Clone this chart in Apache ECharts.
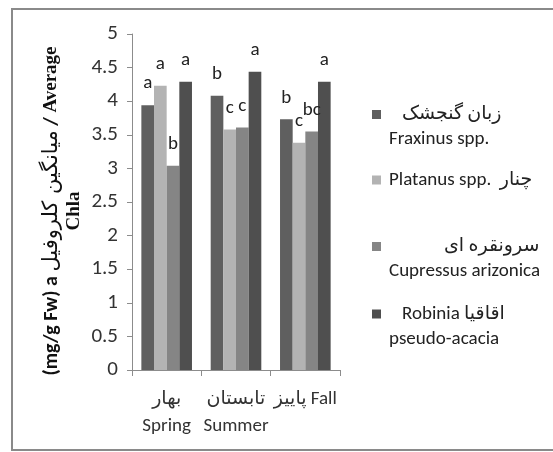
<!DOCTYPE html>
<html>
<head>
<meta charset="utf-8">
<script src="https://cdn.jsdelivr.net/npm/echarts@6/dist/echarts.min.js"></script>
<style>
html,body{margin:0;padding:0;background:#fff;}
#chart{width:553px;height:452px;}
</style>
</head>
<body>
<div id="chart"></div>
<script>
// ---- data ----
const categories = ['بهار\nSpring', 'تابستان\nSummer', 'پاییز Fall'];
const seriesNames = ['Fraxinus spp.', 'Platanus spp.', 'Cupressus arizonica', 'Robinia pseudo-acacia'];
const fraxinus  = [3.94, 4.08, 3.73];
const platanus  = [4.23, 3.58, 3.38];
const cupressus = [3.04, 3.61, 3.55];
const robinia   = [4.29, 4.44, 4.29];
const fraxinusLetters  = ['a', 'b', 'b'];
const platanusLetters  = ['a', 'c', 'c'];
const cupressusLetters = ['b', 'c', 'bc'];
const robiniaLetters   = ['a', 'a', 'a'];
const yTicks = [0, 0.5, 1, 1.5, 2, 2.5, 3, 3.5, 4, 4.5, 5];

const FONT = "Carlito, Lato, 'DejaVu Sans', sans-serif";
const colors = ['#5f5f5f', '#b3b3b3', '#858585', '#4f4f4f'];
const values = [fraxinus, platanus, cupressus, robinia];
const letters = [fraxinusLetters, platanusLetters, cupressusLetters, robiniaLetters];

const legendText = {
  'Fraxinus spp.': '{e| }\n{p1|زبان گنجشک}\n{l|Fraxinus spp.}',
  'Platanus spp.': '{l|Platanus spp.  چنار}',
  'Cupressus arizonica': '{e| }\n{p3|سرونقره ای}\n{l|Cupressus arizonica}',
  'Robinia pseudo-acacia': '{e| }\n{p4|Robinia اقاقیا}\n{l|pseudo-acacia}'
};
const legendTops = [80, 170.5, 212, 279.5];

const rich = {
  e: {fontSize: 19, lineHeight: 25, fontFamily: FONT, color: '#222'},
  l: {fontSize: 19, lineHeight: 25, fontFamily: FONT, color: '#222', padding: [0, 0, 0, 3]},
  p1: {fontSize: 19, lineHeight: 25, fontFamily: FONT, color: '#222', padding: [0, 0, 0, 16]},
  p3: {fontSize: 19, lineHeight: 25, fontFamily: FONT, color: '#222', padding: [0, 0, 0, 58]},
  p4: {fontSize: 19, lineHeight: 25, fontFamily: FONT, color: '#222', padding: [0, 0, 0, 16]}
};

const chart = echarts.init(document.getElementById('chart'), null, {renderer: 'canvas'});
chart.setOption({
  animation: false,
  backgroundColor: '#fff',
  graphic: [{
    type: 'rect',
    shape: {x: 12, y: 9, width: 700, height: 441},
    style: {fill: 'none', stroke: '#8a8a8a', lineWidth: 2},
    silent: true
  }],
  grid: {left: 132, right: 213, top: 34, bottom: 82},
  legend: seriesNames.map((n, i) => ({
    data: [n],
    orient: 'vertical',
    left: 372,
    top: legendTops[i],
    padding: 0,
    itemWidth: 9,
    itemHeight: 9,
    icon: 'rect',
    selectedMode: false,
    formatter: name => legendText[name],
    textStyle: {rich: rich, fontFamily: FONT, fontSize: 19}
  })),
  xAxis: {
    type: 'category',
    data: categories,
    axisLine: {lineStyle: {color: '#8c8c8c', width: 1}},
    axisTick: {show: true, alignWithLabel: false, length: 6, lineStyle: {color: '#8c8c8c'}},
    axisLabel: {
      margin: 16,
      fontFamily: FONT,
      fontSize: 19,
      lineHeight: 27,
      color: '#333',
      interval: 0
    }
  },
  yAxis: {
    type: 'value',
    min: 0,
    max: 5,
    interval: 0.5,
    splitLine: {show: false},
    axisLine: {show: true, lineStyle: {color: '#8c8c8c'}},
    axisTick: {show: true, length: 5, lineStyle: {color: '#8c8c8c'}},
    axisLabel: {
      margin: 14,
      fontFamily: FONT,
      fontSize: 21,
      color: '#333',
      formatter: v => String(yTicks.find(t => Math.abs(t - v) < 1e-9) ?? v)
    },
    name: '{s|(mg/g Fw) a }{f|میانگین کلروفیل}{s| / }{t|Average}\n{t|Chla}',
    nameLocation: 'middle',
    nameGap: 46,
    nameRotate: 90,
    nameTextStyle: {
      lineHeight: 23,
      padding: [0, 18, 0, 0],
      rich: {
        s: {fontFamily: FONT, fontWeight: 'bold', fontSize: 20, color: '#111', lineHeight: 23},
        f: {fontFamily: "'DejaVu Sans', sans-serif", fontSize: 21, color: '#111', lineHeight: 23},
        t: {fontFamily: "'Liberation Serif', 'DejaVu Serif', serif", fontWeight: 'bold', fontSize: 19, color: '#111', lineHeight: 23}
      }
    }
  },
  series: seriesNames.map((n, i) => ({
    name: n,
    type: 'bar',
    data: values[i],
    barGap: '0%',
    barCategoryGap: '27%',
    itemStyle: {color: colors[i]},
    label: {
      show: true,
      position: 'top',
      distance: 12,
      fontFamily: FONT,
      fontSize: 19,
      color: '#222',
      formatter: p => letters[i][p.dataIndex]
    }
  }))
});
</script>
</body>
</html>
